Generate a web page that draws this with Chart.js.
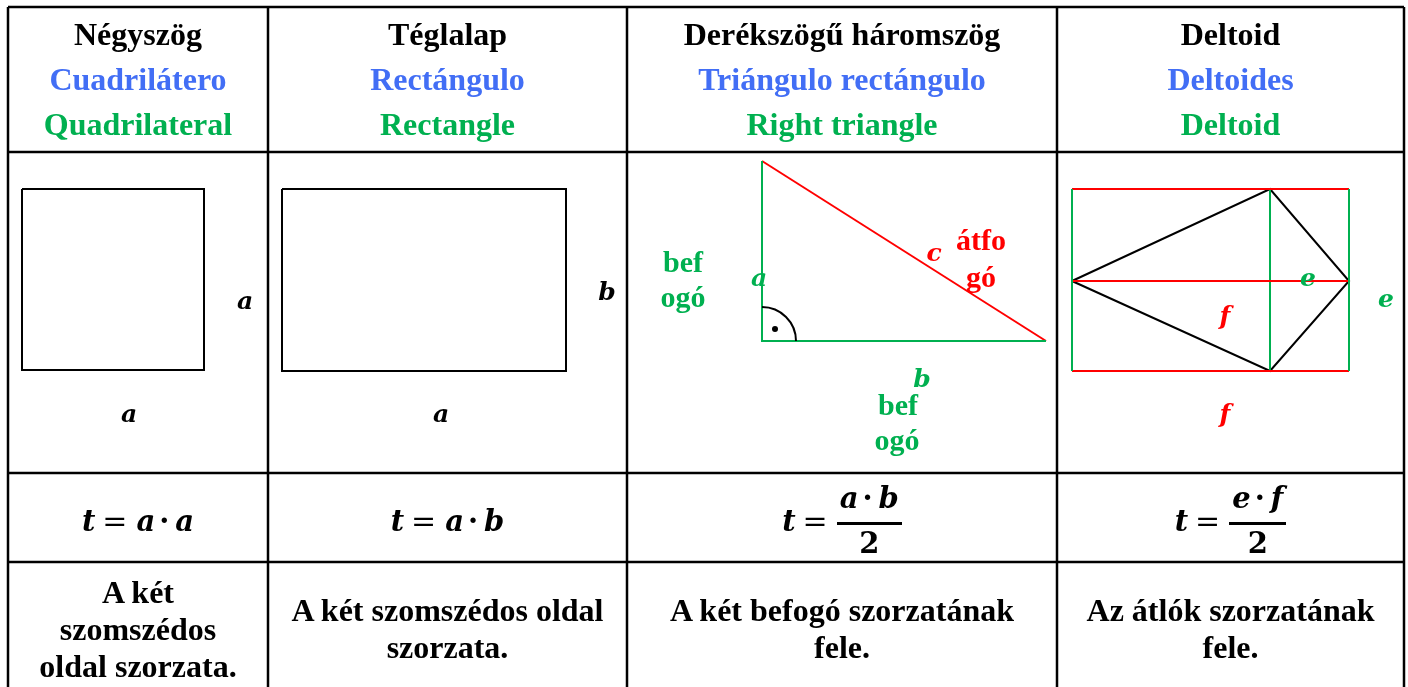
<!DOCTYPE html>
<html>
<head>
<meta charset="utf-8">
<script src="https://cdn.jsdelivr.net/npm/chart.js@4.4.1/dist/chart.umd.min.js"></script>
<style>
  html, body { margin: 0; padding: 0; background: #fff; }
  #page { position: relative; width: 1408px; height: 687px; overflow: hidden; font-family: "Liberation Serif", "Times New Roman", serif; font-weight: bold; }
  #figures { position: absolute; left: 0; top: 0; }
  .cell { position: absolute; display: flex; align-items: center; justify-content: center; text-align: center; font-size: 32px; }
  .head { line-height: 45px; }
  .desc { line-height: 37px; }
  .hu { color: #000; }
  .es { color: #426ef5; }
  .en { color: #00b050; }
  .math { position: relative; top: 3px; font-family: "DejaVu Serif", serif; font-size: 29px; white-space: nowrap; display: inline-flex; align-items: center; }
  .math i { font-style: italic; }
  .op { margin: 0 9px 0 7px; font-style: normal; font-weight: normal; font-size: 30px; }
  .dot { margin: 0 6px 0 4px; font-style: normal; }
  .frac { display: inline-flex; flex-direction: column; align-items: center; }
  .num { border-bottom: 3px solid #000; padding: 0 3px 8px; line-height: 32px; }
  .den { line-height: 32px; padding-top: 2px; font-style: normal; }
  .lbl { position: absolute; transform: translate(-50%, -50%); font-size: 30px; line-height: 1; white-space: nowrap; }
  .lbl.it { font-family: "DejaVu Serif", serif; font-style: italic; font-size: 25px; }
</style>
</head>
<body>
<div id="page">
  <canvas id="figures" width="1408" height="687"></canvas>
</div>
<script>
// table grid (page pixels)
const colEdges = [8, 268, 627, 1057, 1404];
const rowEdges = [7, 152, 473, 562, 696];

// header texts
const titlesHu = ['Négyszög', 'Téglalap', 'Derékszögű háromszög', 'Deltoid'];
const titlesEs = ['Cuadrilátero', 'Rectángulo', 'Triángulo rectángulo', 'Deltoides'];
const titlesEn = ['Quadrilateral', 'Rectangle', 'Right triangle', 'Deltoid'];

// area formulas: [left factor, right factor, divide by]
const formulaFactors = [['a', 'a', null], ['a', 'b', null], ['a', 'b', '2'], ['e', 'f', '2']];

const descriptions = [
    ['A két', 'szomszédos', 'oldal szorzata.'],
    ['A két szomszédos oldal', 'szorzata.'],
    ['A két befogó szorzatának', 'fele.'],
    ['Az átlók szorzatának', 'fele.']
];

// figures
const squarePts = [[22, 189], [204, 189], [204, 370], [22, 370], [22, 189]];
const rectPts = [[282, 189], [566, 189], [566, 371], [282, 371], [282, 189]];
const triLegs = [[762, 161], [762, 341], [1046, 341]];
const triHyp = [[762, 161], [1046, 341]];
const rightAngle = { x: 762, y: 341, r: 34 };
const rightAngleDot = [[775, 329]];
const deltoidBox = { left: 1072, right: 1349, top: 189, bottom: 371 };
const deltoidMid = [[1072, 281], [1349, 281]];
const deltoidCross = [[1270, 189], [1270, 371]];
const kitePts = [[1072, 281], [1270, 189], [1349, 281], [1270, 371], [1072, 281]];

// labels in the figures
const figureLabels = [
    { t: 'a', x: 245, y: 300, c: '#000', it: true },
    { t: 'a', x: 129, y: 413, c: '#000', it: true },
    { t: 'b', x: 607, y: 291, c: '#000', it: true },
    { t: 'a', x: 441, y: 413, c: '#000', it: true },
    { t: 'bef', x: 683, y: 262, c: '#00b050' },
    { t: 'ogó', x: 683, y: 297, c: '#00b050' },
    { t: 'a', x: 759, y: 277, c: '#00b050', it: true },
    { t: 'c', x: 934, y: 252, c: '#ff0000', it: true },
    { t: 'átfo', x: 981, y: 240, c: '#ff0000' },
    { t: 'gó', x: 981, y: 277, c: '#ff0000' },
    { t: 'b', x: 922, y: 378, c: '#00b050', it: true },
    { t: 'bef', x: 898, y: 405, c: '#00b050' },
    { t: 'ogó', x: 897, y: 440, c: '#00b050' },
    { t: 'e', x: 1308, y: 277, c: '#00b050', it: true },
    { t: 'e', x: 1386, y: 298, c: '#00b050', it: true },
    { t: 'f', x: 1225, y: 315, c: '#ff0000', it: true },
    { t: 'f', x: 1225, y: 413, c: '#ff0000', it: true }
];

const page = document.getElementById('page');

function line(points, color, width) {
    return {
        data: points.map(p => ({ x: p[0], y: p[1] })),
        showLine: true,
        borderColor: color,
        borderWidth: width,
        pointRadius: 0,
        fill: false,
        tension: 0
    };
}

const datasets = [];
// grid of the table
colEdges.forEach(x => datasets.push(line([[x, rowEdges[0]], [x, rowEdges[4]]], '#000', 2.5)));
rowEdges.slice(0, 4).forEach(y => datasets.push(line([[colEdges[0], y], [colEdges[4], y]], '#000', 2.5)));

datasets.push(line(squarePts, '#000', 2));
datasets.push(line(rectPts, '#000', 2));
datasets.push(line(triLegs, '#00b050', 2));
datasets.push(line(triHyp, '#ff0000', 2));
datasets.push({
    data: rightAngleDot.map(p => ({ x: p[0], y: p[1] })),
    pointRadius: 3,
    pointBackgroundColor: '#000',
    pointBorderWidth: 0
});
const b = deltoidBox;
datasets.push(line([[b.left, b.top], [b.left, b.bottom]], '#00b050', 2));
datasets.push(line([[b.right, b.top], [b.right, b.bottom]], '#00b050', 2));
datasets.push(line([[b.left, b.top], [b.right, b.top]], '#ff0000', 2));
datasets.push(line([[b.left, b.bottom], [b.right, b.bottom]], '#ff0000', 2));
datasets.push(line(deltoidMid, '#ff0000', 2));
datasets.push(line(deltoidCross, '#00b050', 2));
datasets.push(line(kitePts, '#000', 2));

// quarter circle marking the right angle
const arcPlugin = {
    id: 'rightAngleArc',
    afterDatasetsDraw(chart) {
        const { ctx, scales } = chart;
        const cx = scales.x.getPixelForValue(rightAngle.x);
        const cy = scales.y.getPixelForValue(rightAngle.y);
        const r = scales.x.getPixelForValue(rightAngle.x + rightAngle.r) - cx;
        ctx.save();
        ctx.beginPath();
        ctx.arc(cx, cy, r, -Math.PI / 2, 0);
        ctx.strokeStyle = '#000';
        ctx.lineWidth = 2;
        ctx.stroke();
        ctx.restore();
    }
};

const figuresChart = new Chart(document.getElementById('figures'), {
    type: 'scatter',
    data: { datasets: datasets },
    options: {
        responsive: false,
        animation: false,
        events: [],
        layout: { padding: 0, autoPadding: false },
        plugins: { legend: { display: false }, tooltip: { enabled: false } },
        scales: {
            x: { type: 'linear', min: 0, max: 1408, display: false },
            y: { type: 'linear', min: 0, max: 687, reverse: true, display: false }
        },
        clip: false
    },
    plugins: [arcPlugin]
});

// text cells
function addCell(col, row, html, cls) {
    const div = document.createElement('div');
    div.className = 'cell ' + cls;
    div.style.left = colEdges[col] + 'px';
    div.style.top = rowEdges[row] + 'px';
    div.style.width = (colEdges[col + 1] - colEdges[col]) + 'px';
    div.style.height = (rowEdges[row + 1] - rowEdges[row]) + 'px';
    div.innerHTML = html;
    page.appendChild(div);
}

for (let i = 0; i < 4; i++) {
    addCell(i, 0, '<div><div class="hu">' + titlesHu[i] + '</div><div class="es">' + titlesEs[i] +
        '</div><div class="en">' + titlesEn[i] + '</div></div>', 'head');

    const [p, q, d] = formulaFactors[i];
    const product = '<i>' + p + '</i><span class="dot">·</span><i>' + q + '</i>';
    let rhs = product;
    if (d) rhs = '<span class="frac"><span class="num">' + product + '</span><span class="den">' + d + '</span></span>';
    addCell(i, 2, '<span class="math"><i>t</i><span class="op">=</span>' + rhs + '</span>', 'formula');

    addCell(i, 3, '<div>' + descriptions[i].join('<br>') + '</div>', 'desc');
}

// figure labels placed through the chart scales
figureLabels.forEach(l => {
    const span = document.createElement('span');
    span.className = 'lbl' + (l.it ? ' it' : '');
    span.textContent = l.t;
    span.style.color = l.c;
    span.style.left = figuresChart.scales.x.getPixelForValue(l.x) + 'px';
    span.style.top = figuresChart.scales.y.getPixelForValue(l.y) + 'px';
    page.appendChild(span);
});
</script>
</body>
</html>
